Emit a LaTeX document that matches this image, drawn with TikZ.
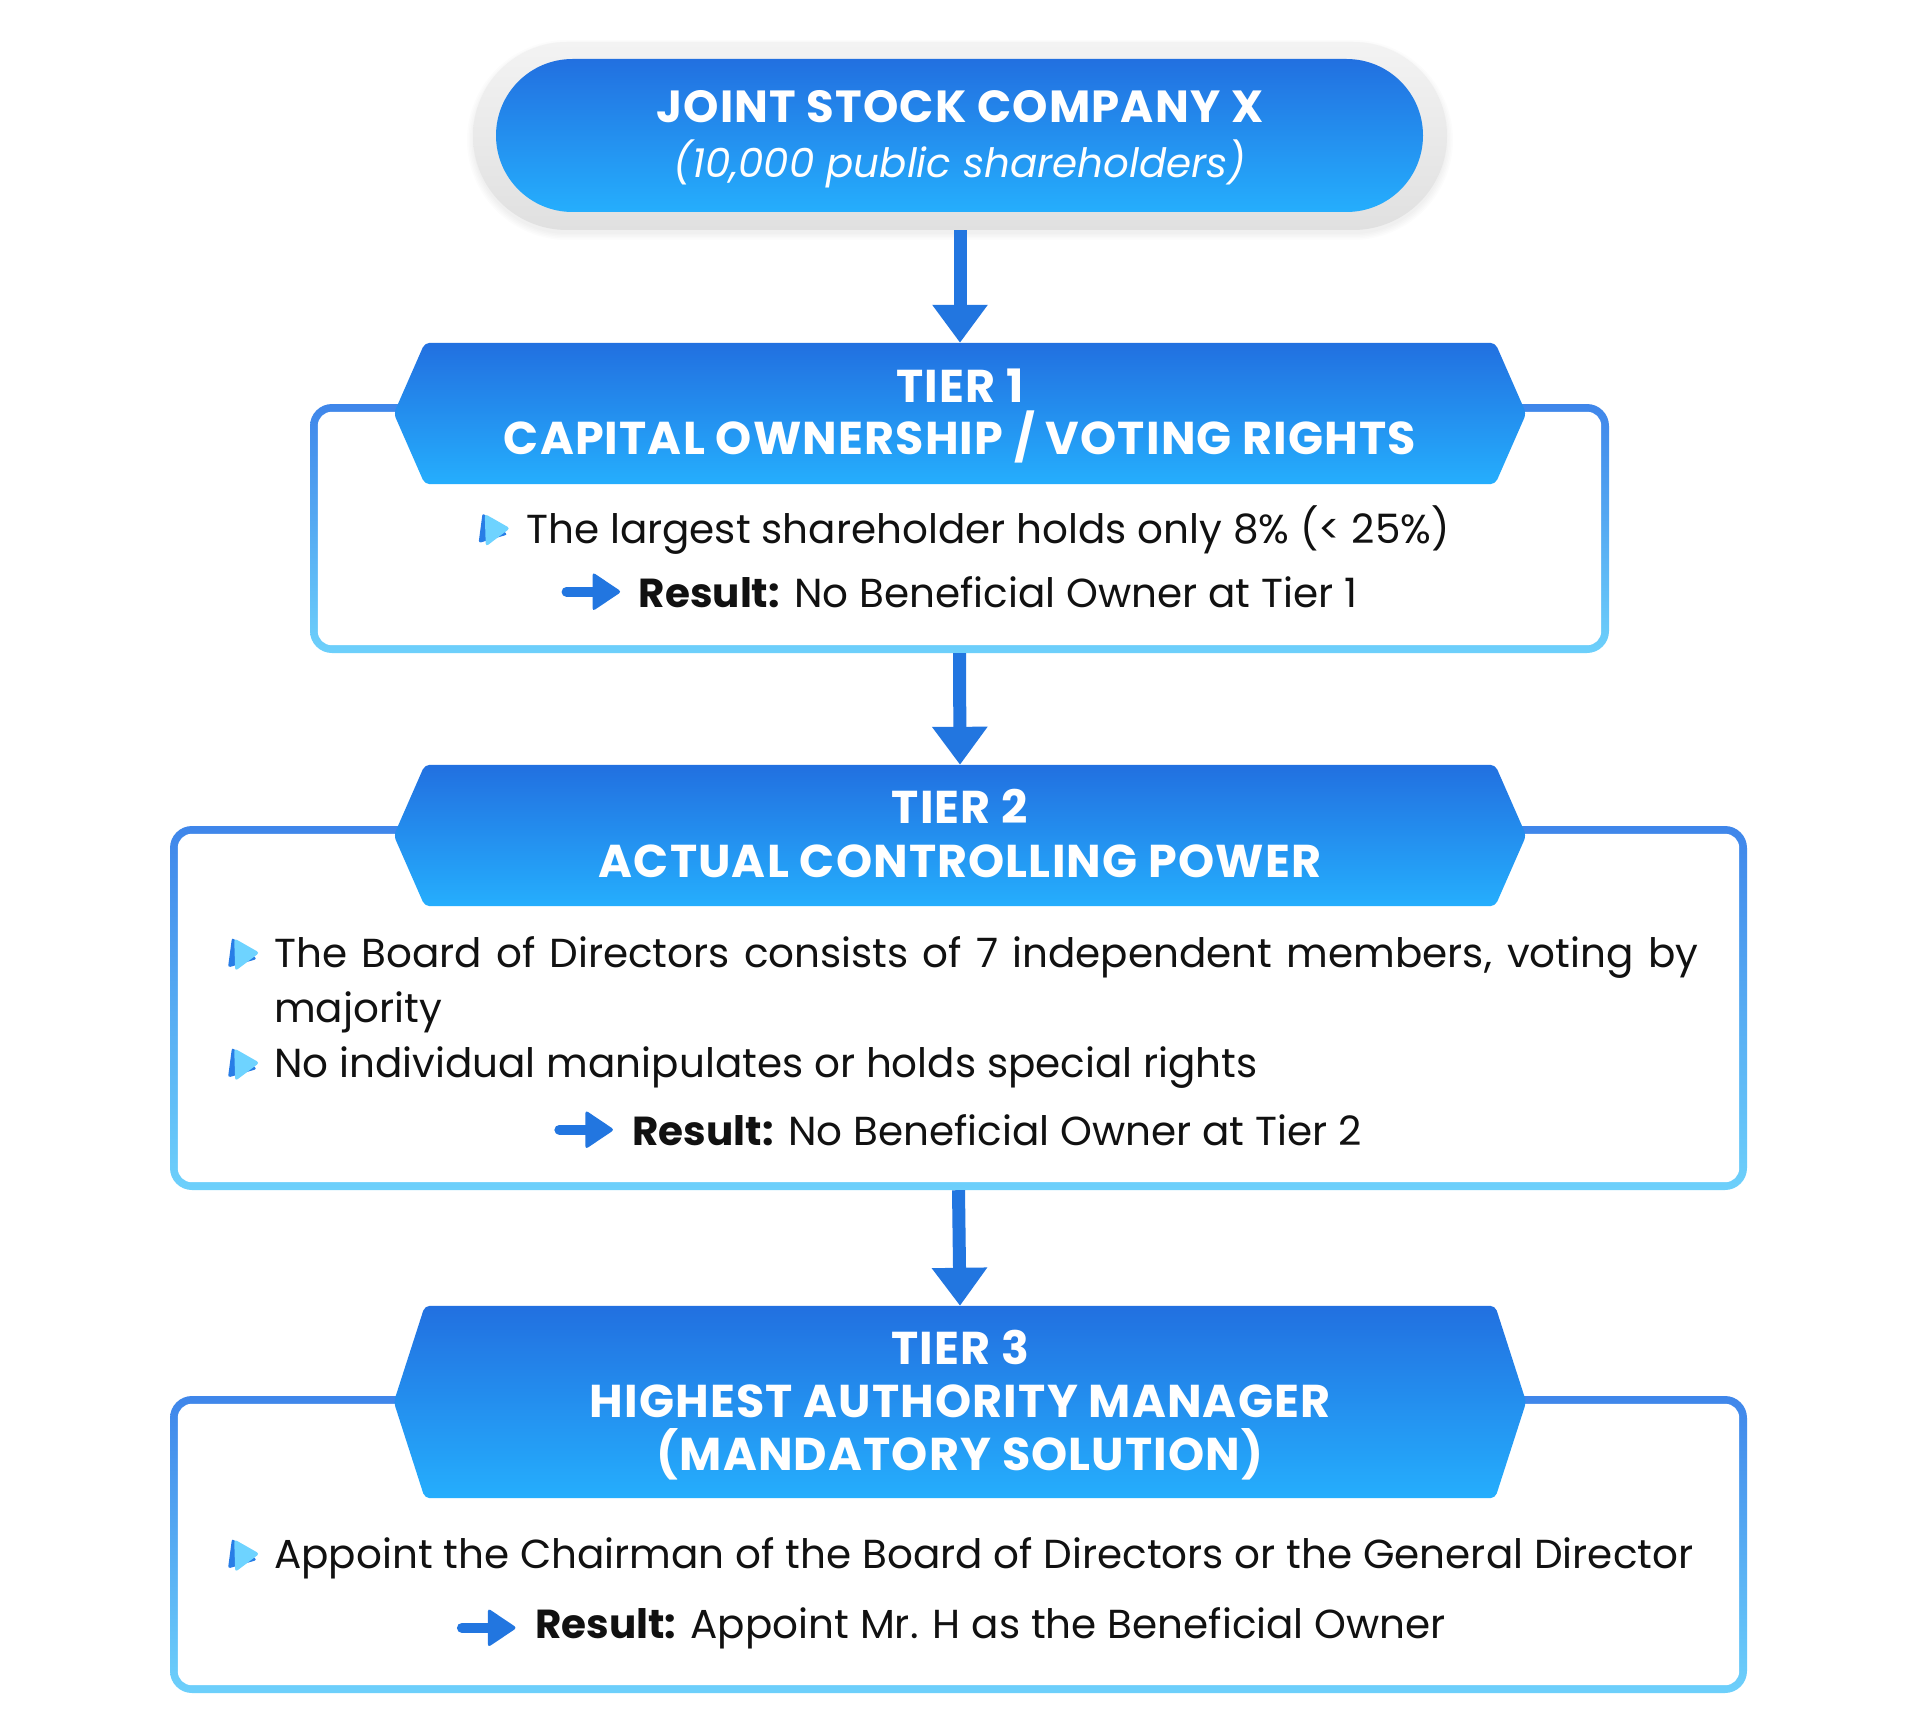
\documentclass[tikz,border=0pt]{standalone}
\usepackage{fontspec}
\setmainfont{Poppins}
\newfontfamily\hdrfont[LetterSpace=2.5]{Poppins}
\usetikzlibrary{arrows.meta,calc}
\definecolor{hdTop}{RGB}{34,112,224}
\definecolor{hdBot}{RGB}{37,174,253}
\definecolor{bdTop}{RGB}{63,134,234}
\definecolor{bdBot}{RGB}{109,208,251}
\definecolor{arrowcol}{RGB}{34,118,224}
\definecolor{iconLight}{RGB}{110,211,255}
\definecolor{iconDark}{RGB}{40,125,230}
\definecolor{bodytext}{RGB}{17,17,17}
\definecolor{ringTop}{RGB}{243,243,243}
\definecolor{ringBot}{RGB}{224,224,224}
\tikzset{
  pillbox/.style={rectangle, rounded corners=76.5pt, top color=hdTop, bottom color=hdBot, draw=none,
    minimum width=927pt, minimum height=153pt, inner sep=0pt},
  ringbox/.style={rectangle, rounded corners=94pt, top color=ringTop, bottom color=ringBot, draw=none,
    minimum width=974pt, minimum height=188pt, inner sep=0pt},
  ghost/.style={rectangle, draw=none, fill=none, inner sep=0pt},
  hdrshape/.style={top color=hdTop, bottom color=hdBot, draw=none, rounded corners=5pt},
  outerbox/.style={rectangle, rounded corners=22pt, top color=bdTop, bottom color=bdBot, draw=none, inner sep=0pt},
  innerfill/.style={fill=white, rounded corners=14pt},
  conn/.style={draw=arrowcol, line width=13pt, -{Triangle[width=53pt,length=38pt]}},
  hdrtext/.style={text=white, font=\fontsize{46}{53}\hdrfont\bfseries, inner sep=0pt, anchor=base},
  titletext/.style={text=white, font=\fontsize{45}{53}\hdrfont\bfseries, inner sep=0pt, anchor=base},
  subtext/.style={text=white, font=\fontsize{40.4}{50}\selectfont\itshape, inner sep=0pt, anchor=base},
  bodyt/.style={text=bodytext, font=\fontsize{40.5}{55}\selectfont, inner sep=0pt},
  bulleticon/.pic={
    \fill[iconDark, rounded corners=2.5pt] (-11.5,-16.5) -- (13.5,5) -- (-15.5,13.5) -- cycle;
    \fill[iconLight, rounded corners=3pt] (-9.3,-15.7) -- (16,-1.3) -- (-8.3,17) -- cycle;
  },
  resarrow/.pic={
    \draw[arrowcol, line width=10pt, line cap=round] (5,0) -- (34,0);
    \fill[arrowcol, rounded corners=3pt] (31,-19.5) -- (60,0) -- (31,19.5) -- cycle;
  }
}
\begin{document}
\begin{tikzpicture}[x=1pt,y=-1pt]
\useasboundingbox (0,0) rectangle (1920,1736);
\fill[white] (0,0) rectangle (1920,1736);

% ---------- top pill with ring and soft shadow ----------
\foreach \i in {0,...,4}{
  \pgfmathsetmacro{\w}{974+\i*3}
  \pgfmathsetmacro{\h}{188+\i*3}
  \pgfmathsetmacro{\r}{\h/2}
  \fill[black, opacity=0.012, rounded corners=\r pt]
    (960-\w/2,140-\h/2) rectangle (960+\w/2,140+\h/2);
}
\node[ringbox] (topshadow) at (960,136) {};
\node[pillbox] (top) at (959.5,135.5) {};
\node[titletext] (titleA) at (960,123) {JOINT STOCK COMPANY X};
\node[subtext] (titleB) at (960,178) {(10,000 public shareholders)};

% ---------- Tier 1 ----------
\node[outerbox, minimum width=1299pt, minimum height=249pt] (b1) at (959.5,528.5) {};
\fill[innerfill] ($(b1.north west)+(8,8)$) rectangle ($(b1.south east)+(-8,-8)$);
\node[ghost, minimum width=1070pt, minimum height=141pt] (h1) at (960,413.5) {};
\path[hdrshape] (h1.north west) -- (h1.north east) -- ($(h1.east)+(31,0)$) -- (h1.south east)
  -- (h1.south west) -- ($(h1.west)+(-31,0)$) -- cycle;
\node[hdrtext] (h1a) at (960,402) {TIER 1};
\node[hdrtext] (h1b) at (960,454) {CAPITAL OWNERSHIP / VOTING RIGHTS};
\node[bodyt, anchor=base] (t1a) at (988,543) {The largest shareholder holds only 8\% (< 25\%)};
\pic at ($(t1a.west)+(-32,0)$ |- 0,530) {bulleticon};
\node[bodyt, anchor=base] (t1r) at (998,607) {\textbf{Result:} No Beneficial Owner at Tier 1};
\pic at ($(t1r.west)+(-77,0)$ |- 0,592.5) {resarrow};

% ---------- Tier 2 ----------
\node[outerbox, minimum width=1577pt, minimum height=364pt] (b2) at (958.5,1008) {};
\fill[innerfill] ($(b2.north west)+(8,8)$) rectangle ($(b2.south east)+(-8,-8)$);
\node[ghost, minimum width=1070pt, minimum height=141pt] (h2) at (960,835.5) {};
\path[hdrshape] (h2.north west) -- (h2.north east) -- ($(h2.east)+(31,0)$) -- (h2.south east)
  -- (h2.south west) -- ($(h2.west)+(-31,0)$) -- cycle;
\node[hdrtext] (h2a) at (960,823) {TIER 2};
\node[hdrtext] (h2b) at (960,877) {ACTUAL CONTROLLING POWER};
\node[bodyt, anchor=base west, text width=1430pt, align=left] (t2a) at (274,967)
  {\hbox to 1424pt{\spaceskip=0.26em plus 1fil\relax The Board of Directors consists of 7 independent members, voting by}\\majority};
\pic at (243.5,954) {bulleticon};
\node[bodyt, anchor=base west] (t2b) at (274,1077) {No individual manipulates or holds special rights};
\pic at (243.5,1064) {bulleticon};
\node[bodyt, anchor=base] (t2r) at (997,1145) {\textbf{Result:} No Beneficial Owner at Tier 2};
\pic at ($(t2r.west)+(-78,0)$ |- 0,1130.5) {resarrow};

% ---------- Tier 3 ----------
\node[outerbox, minimum width=1577pt, minimum height=297pt] (b3) at (958.5,1544.5) {};
\fill[innerfill] ($(b3.north west)+(8,8)$) rectangle ($(b3.south east)+(-8,-8)$);
\node[ghost, minimum width=1070pt, minimum height=192pt] (h3) at (960,1402) {};
\path[hdrshape] (h3.north west) -- (h3.north east) -- ($(h3.east)+(31,0)$) -- (h3.south east)
  -- (h3.south west) -- ($(h3.west)+(-31,0)$) -- cycle;
\node[hdrtext] (h3a) at (960,1364) {TIER 3};
\node[hdrtext] (h3b) at (960,1417) {HIGHEST AUTHORITY MANAGER};
\node[hdrtext] (h3c) at (960,1470) {(MANDATORY SOLUTION)};
\node[bodyt, anchor=base west] (t3a) at (274,1568) {Appoint the Chairman of the Board of Directors or the General Director};
\pic at (243.5,1555) {bulleticon};
\node[bodyt, anchor=base] (t3r) at (990.5,1638) {\textbf{Result:} Appoint Mr. H as the Beneficial Owner};
\pic at ($(t3r.west)+(-78,0)$ |- 0,1623.5) {resarrow};

% ---------- connectors ----------
\draw[conn] (topshadow.south) -- (h1.north);
\draw[conn] (b1.south) -- (h2.north);
\draw[conn] (b2.south) -- (h3.north);
\end{tikzpicture}
\end{document}
